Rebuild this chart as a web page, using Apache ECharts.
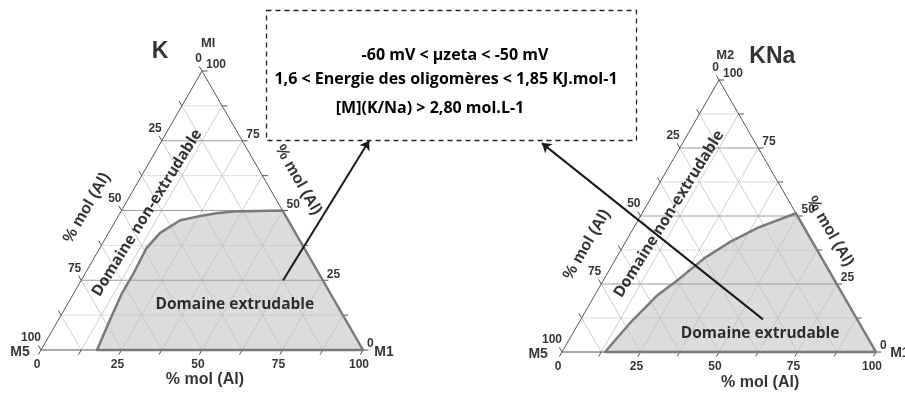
<!DOCTYPE html>
<html>
<head>
<meta charset="utf-8">
<script src="https://cdn.jsdelivr.net/npm/echarts@6/dist/echarts.min.js"></script>
<style>
html, body { margin: 0; padding: 0; background: #fff; }
#main { width: 905px; height: 394px; }
</style>
</head>
<body>
<div id="main"></div>
<script>
var SQ = Math.sqrt(3) / 2;

// tick labels on the three sides
var tickValues = [0, 25, 50, 75, 100];
// grid lines every 12.5 %
var gridSteps = [12.5, 25, 37.5, 50, 62.5, 75, 87.5];
var tickSteps = [0, 12.5, 25, 37.5, 50, 62.5, 75, 87.5, 100];

// domaine extrudable, points as [% M1, % apex]
var domainK = [[17.4, 0], [16, 11], [15, 20], [15, 27.5], [14.5, 36.5], [16, 42], [20, 46.5],
  [25.5, 48], [30, 49], [35, 49.6], [50, 50], [100, 0]];
var domainKNa = [[13.7, 0], [16.5, 11.3], [20, 21], [23.7, 26.6], [28.2, 34.6], [33.6, 40.8],
  [39.6, 45.7], [49, 51], [100, 0]];

// arrows from the domain to the box, [% M1, % apex]
var arrowK = [[62.7, 25], [64.4, 75]];
var arrowKNa = [[58, 12], [-44.8, 76.8]];

var boxLines = ['-60 mV < \u00b5zeta < -50 mV', '1,6 < Energie des oligom\u00e8res < 1,85 KJ.mol-1', '[M](K/Na) > 2,80 mol.L-1'];

// ternary -> cartesian (base 0..100)
function xy(a, c) { return [a + c / 2, c * SQ]; }

var ARIAL = '"Liberation Sans", Arial, sans-serif';
var CALI = '"Open Sans", "Noto Sans", sans-serif';

var panels = [{
  grid: { left: 41, top: 71, width: 322, height: 279 },
  title: 'K', titlePos: [37, 92.6], titleSize: 23,
  apex: 'Ml', apexPos: [51.9, 95.3],
  m5Pos: [-6.5, -0.6], m1Pos: [103.5, -0.6],
  leftTitle: [14.2, 44.1], rightTitle: [79.9, 52.8], bottomTitle: [50.9, -9.3],
  nonExtr: [32.9, 42.5], extr: [60.2, 14.0],
  domain: domainK, arrow: arrowK
}, {
  grid: { left: 562, top: 80, width: 314, height: 272 },
  title: 'KNa', titlePos: [67, 94], titleSize: 23,
  apex: 'M2', apexPos: [52, 94.3],
  m5Pos: [-7.6, -0.8], m1Pos: [104.5, -0.5],
  leftTitle: [7.9, 34.2], rightTitle: [85.4, 38.4], bottomTitle: [63.1, -9.7],
  nonExtr: [34.1, 43.9], extr: [63.1, 6.0],
  domain: domainKNa, arrow: arrowKNa
}];

var grids = [], xAxes = [], yAxes = [], series = [];

function segs(list) {
  return list.map(function (s) { return { coords: s }; });
}

function linesSeries(i, list, style, z) {
  return {
    type: 'lines', coordinateSystem: 'cartesian2d', xAxisIndex: i, yAxisIndex: i,
    polyline: true, silent: true, clip: false, z: z,
    lineStyle: Object.assign({ opacity: 1 }, style),
    data: segs(list)
  };
}

panels.forEach(function (p, i) {
  grids.push(Object.assign({ containLabel: false }, p.grid));
  xAxes.push({ type: 'value', gridIndex: i, min: 0, max: 100, show: false });
  yAxes.push({ type: 'value', gridIndex: i, min: 0, max: 100 * SQ, show: false });

  var pts = p.domain.map(function (d) { return xy(d[0], d[1]); });

  // fill of the extrudable domain
  series.push({
    type: 'custom', coordinateSystem: 'cartesian2d', xAxisIndex: i, yAxisIndex: i,
    data: [[50, 20]], silent: true, clip: false, z: 1,
    renderItem: function (params, api) {
      return { type: 'polygon', shape: { points: pts.map(function (q) { return api.coord(q); }) },
        style: { fill: '#dcdcdc' } };
    }
  });

  var hMajor = [], hMinor = [], diag = [];
  gridSteps.forEach(function (s) {
    var h = [xy(0, s), xy(100 - s, s)];
    if (s % 25 === 0) hMajor.push(h); else hMinor.push(h);
    diag.push([xy(s, 0), xy(s, 100 - s)]);
    diag.push([xy(100 - s, 0), xy(0, 100 - s)]);
  });
  series.push(linesSeries(i, diag, { color: '#c2c2c2', width: 0.8 }, 2));
  series.push(linesSeries(i, hMinor, { color: '#bdbdbd', width: 1, type: 'dotted' }, 2));
  series.push(linesSeries(i, hMajor, { color: '#9c9c9c', width: 1 }, 2));

  // frame and ticks
  var L = 1.7;
  var frame = [[xy(0, 0), xy(100, 0), xy(0, 100), xy(0, 0)]];
  tickSteps.forEach(function (s) {
    frame.push([xy(s, 0), [s - L * 0.5, -L * SQ]]);
    var q = xy(0, 100 - s);
    frame.push([q, [q[0] - L * 0.5, q[1] + L * SQ]]);
    var r = xy(100 - s, s);
    frame.push([r, [r[0] + L, r[1]]]);
  });
  series.push(linesSeries(i, frame, { color: '#555', width: 1 }, 3));

  // border of the domain
  series.push({
    type: 'custom', coordinateSystem: 'cartesian2d', xAxisIndex: i, yAxisIndex: i,
    data: [[50, 20]], silent: true, clip: false, z: 4,
    renderItem: function (params, api) {
      return { type: 'polygon', shape: { points: pts.map(function (q) { return api.coord(q); }) },
        style: { fill: 'none', stroke: '#7a7a7a', lineWidth: 2.5, lineJoin: 'round' } };
    }
  });

  // arrow
  series.push({
    type: 'lines', coordinateSystem: 'cartesian2d', xAxisIndex: i, yAxisIndex: i,
    silent: true, clip: false, z: 5,
    symbol: ['none', 'arrow'], symbolSize: 9,
    lineStyle: { color: '#1a1a1a', width: 2, opacity: 1 },
    data: [{ coords: [xy(p.arrow[0][0], p.arrow[0][1]), xy(p.arrow[1][0], p.arrow[1][1])] }]
  });

  // tick labels
  var tl = [];
  tickValues.forEach(function (v) {
    tl.push({ value: xy(v, 0), label: { formatter: String(v), offset: [-4, 15] } });
    tl.push({ value: xy(0, 100 - v), label: { formatter: String(v), align: 'right', offset: [0, -12] } });
    tl.push({ value: xy(100 - v, v), label: { formatter: String(v), align: 'left', offset: [4, -6] } });
  });
  function txt(pos, text, extra) {
    return { value: pos, label: Object.assign({ formatter: text }, extra) };
  }
  tl.push(txt(p.titlePos, p.title, { fontSize: p.titleSize }));
  tl.push(txt(p.apexPos, p.apex, { fontSize: 13 }));
  tl.push(txt(p.m5Pos, 'M5', { fontSize: 14 }));
  tl.push(txt(p.m1Pos, 'M1', { fontSize: 14, align: 'left' }));
  tl.push(txt(p.leftTitle, '% mol (Al)', { fontSize: 16, rotate: 60 }));
  tl.push(txt(p.rightTitle, '% mol (Al)', { fontSize: 16, rotate: -60 }));
  tl.push(txt(p.bottomTitle, '% mol (Al)', { fontSize: 16 }));
  tl.push(txt(p.nonExtr, 'Domaine non-extrudable', { fontSize: 15.5, rotate: 58, fontFamily: CALI }));
  tl.push(txt(p.extr, 'Domaine extrudable', { fontSize: 15.5, fontFamily: CALI }));
  series.push({
    type: 'scatter', xAxisIndex: i, yAxisIndex: i, silent: true, z: 6, clip: false,
    symbolSize: 0, itemStyle: { color: 'transparent' },
    label: {
      show: true, position: 'inside', fontSize: 12, verticalAlign: 'middle', align: 'center',
      fontFamily: ARIAL, fontWeight: 'bold', color: '#000'
    },
    data: tl
  });
});

var graphics = [{
  type: 'rect', z: 10,
  shape: { x: 266.5, y: 10.5, width: 370, height: 130 },
  style: { fill: 'none', stroke: '#222', lineWidth: 1.3, lineDash: [5, 4] }
}];
var boxY = [55, 79, 108], boxX = [455, 446, 430], boxSize = [16, 16, 16];
boxLines.forEach(function (t, k) {
  graphics.push({
    type: 'text', z: 10, x: boxX[k], y: boxY[k],
    style: {
      text: t, fontSize: boxSize[k], fontWeight: 'bold', fontFamily: CALI,
      fill: '#000', align: 'center', verticalAlign: 'middle'
    }
  });
});

var myChart = echarts.init(document.getElementById('main'));
myChart.setOption({
  animation: false,
  grid: grids,
  xAxis: xAxes,
  yAxis: yAxes,
  graphic: graphics,
  series: series
});
</script>
</body>
</html>
